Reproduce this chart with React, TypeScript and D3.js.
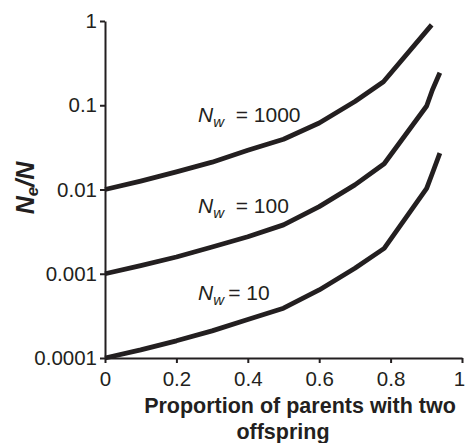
import { useEffect, useRef } from 'react';
import * as d3 from 'd3';

// proportion of parents with two offspring
const xTop = [0, 0.1, 0.2, 0.3, 0.4, 0.5, 0.6, 0.7, 0.78, 0.915];
const xLow = [0, 0.1, 0.2, 0.3, 0.4, 0.5, 0.6, 0.7, 0.782, 0.901, 0.917, 0.938];

// Ne/N for each Nw
const ne1000 = [0.01, 0.0126, 0.0162, 0.0211, 0.0292, 0.0395, 0.0615, 0.111, 0.19, 0.9];
const ne100 = [0.001, 0.00125, 0.00158, 0.00208, 0.00275, 0.0038, 0.00627, 0.01134, 0.0202, 0.098, 0.152, 0.243];
const ne10 = [0.0001, 0.000125, 0.00016, 0.00021, 0.000287, 0.00039, 0.000642, 0.00116, 0.002, 0.0103, 0.0156, 0.027];

const yTicks = [0.0001, 0.001, 0.01, 0.1, 1];
const yTickLabels = ['0.0001', '0.001', '0.01', '0.1', '1'];
const xTicks = [0, 0.2, 0.4, 0.6, 0.8, 1];
const xTickLabels = ['0', '0.2', '0.4', '0.6', '0.8', '1'];

const curveLabels = ['1000', '100', '10'];

const width = 465;
const height = 443;
const ink = '#231f20';
const font = '"Liberation Sans", Arial, sans-serif';

function App() {
  const xAxisRef = useRef<SVGGElement>(null);
  const yAxisRef = useRef<SVGGElement>(null);

  const x = d3.scaleLinear().domain([0, 1]).range([105, 462]);
  const y = d3.scaleLog().domain([0.0001, 1]).range([358, 21]);

  const line = d3
    .line<[number, number]>()
    .x((d) => x(d[0]))
    .y((d) => y(d[1]));

  const series = [
    { xs: xTop, ys: ne1000 },
    { xs: xLow, ys: ne100 },
    { xs: xLow, ys: ne10 },
  ];

  useEffect(() => {
    const xAxis = d3
      .axisBottom(x)
      .tickValues(xTicks)
      .tickFormat((_, i) => xTickLabels[i])
      .tickSize(5)
      .tickSizeOuter(0)
      .tickPadding(8);
    const yAxis = d3
      .axisLeft(y)
      .tickValues(yTicks)
      .tickFormat((_, i) => yTickLabels[i])
      .tickSize(5)
      .tickSizeOuter(0)
      .tickPadding(3);

    const gx = d3.select(xAxisRef.current!).call(xAxis);
    const gy = d3.select(yAxisRef.current!).call(yAxis);
    [gx, gy].forEach((g) => {
      g.attr('font-family', font).attr('font-size', 20.5);
      g.selectAll('path').attr('stroke', ink).attr('stroke-width', 2);
      g.selectAll('line').attr('stroke', ink).attr('stroke-width', 2);
      g.selectAll('text').attr('fill', ink);
    });
    // last x label sits against the right edge
    gx.selectAll<SVGTextElement, number>('text')
      .filter((d) => d === 1)
      .attr('dx', -3);
  }, []);

  const labelY = [121.7, 213.3, 300];

  return (
    <svg
      width={width}
      height={height}
      style={{ position: 'absolute', left: 0, top: 0, background: '#fff' }}
    >
      {series.map((s, i) => (
        <path
          key={i}
          d={line(s.xs.map((v, j) => [v, s.ys[j]] as [number, number])) ?? ''}
          fill="none"
          stroke={ink}
          strokeWidth={4.8}
          strokeLinejoin="round"
        />
      ))}
      <g ref={xAxisRef} transform={`translate(0,${y(0.0001)})`} />
      <g ref={yAxisRef} transform={`translate(${x(0)},0)`} />

      {curveLabels.map((c, i) => (
        <text key={c} x={198} y={labelY[i]} fontFamily={font} fontSize={21} fill={ink}>
          <tspan fontStyle="italic">N</tspan>
          <tspan fontStyle="italic" fontSize={15} dy={5}>
            w
          </tspan>
          <tspan dy={-5}>{i === 2 ? '\u2009= ' + c : '\u00a0 = ' + c}</tspan>
        </text>
      ))}

      <text
        transform="translate(34,188) rotate(-90)"
        textAnchor="middle"
        fontFamily={font}
        fontSize={25}
        fontWeight="bold"
        fontStyle="italic"
        fill={ink}
      >
        N<tspan fontSize={17} dy={4}>e</tspan>
        <tspan dy={-4}>/N</tspan>
      </text>

      <text x={300} y={412.5} textAnchor="middle" fontFamily={font} fontSize={21.5} fontWeight="bold" fill={ink}>
        Proportion of parents with two
      </text>
      <text x={283} y={439} textAnchor="middle" fontFamily={font} fontSize={21.5} fontWeight="bold" fill={ink}>
        offspring
      </text>
    </svg>
  );
}

export default App;
